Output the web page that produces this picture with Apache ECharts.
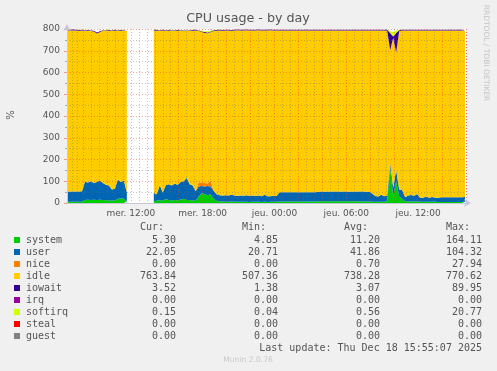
<!DOCTYPE html>
<html>
<head>
<meta charset="utf-8">
<script src="https://cdn.jsdelivr.net/npm/echarts@6/dist/echarts.min.js"></script>
<style>
html,body{margin:0;padding:0;background:#F0F0F0;}
#chart{width:497px;height:371px;}
</style>
</head>
<body>
<div id="chart"></div>
<script>
// ---- sample clock: 15-minute samples starting Wed 17 Dec 2025 06:40 ----
const sampleStart = new Date(2025, 11, 17, 6, 40).getTime();
const sampleStepMin = 15;
const axisStart = new Date(2025, 11, 17, 6, 40).getTime();
const axisEnd = new Date(2025, 11, 18, 16, 0).getTime();
const dayNames = ['dim.', 'lun.', 'mar.', 'mer.', 'jeu.', 'ven.', 'sam.'];

// ---- series values (%), null = no data ----
const systemData = [
  6,6,6,6,6,6,
  14,15,14,15,14,15,14,13,12,11,12,20,21,20,8,
  null,null,null,null,null,null,null,null,
  8,10,14,10,18,14,12,14,12,16,20,14,14,12,10,30,46,40,36,40,20,10,
  7,7,6,6,7,6,6,6,6,6,5,6,6,6,5,6,5,6,6,6,
  7,7,7,7,7,7,7,7,7,7,7,7,7,
  8,8,8,8,8,8,8,8,8,8,8,8,8,8,
  7,7,7,7,
  6,6,6,6,6,8,
  160,30,100,30,20,
  8,7,7,7,7,
  6,6,6,6,6,6,
  5,5,5,5,5,5,5,5,5,
  5.3
];
const userData = [
  47,47,47,47,47,48,
  84,79,86,77,82,89,78,71,68,51,54,88,75,82,42,
  null,null,null,null,null,null,null,null,
  38,30,68,38,64,72,68,74,72,80,80,102,72,68,44,46,32,36,42,36,36,30,
  29,27,30,28,31,28,27,29,27,30,28,29,26,28,26,32,26,25,27,26,
  42,42,42,43,42,42,43,42,43,42,42,43,42,
  44,45,44,45,44,45,45,44,45,45,44,45,44,45,
  46,46,45,45,
  38,26,24,32,25,26,
  22,40,52,32,40,
  18,28,30,26,34,
  18,18,24,18,22,18,
  19,22,22,22,22,22,22,22,22,
  22.05
];
const niceData = [
  0,0,0,0,0,0,
  0,0,0,0,0,0,0,0,0,0,0,0,0,0,0,
  null,null,null,null,null,null,null,null,
  0,0,0,0,0,0,0,0,0,0,0,0,0,0,0,20,14,16,12,26,2,0,
  0,0,0,0,0,0,0,0,0,0,0,0,0,0,0,0,0,0,0,0,
  0,0,0,0,0,0,0,0,0,0,0,0,0,
  0,0,0,0,0,0,0,0,0,0,0,0,0,0,
  0,0,0,0,
  0,0,0,0,0,0,
  0,0,0,0,0,
  0,0,0,0,0,
  0,0,0,0,0,0,
  0,0,0,0,0,0,0,0,0,
  0
];
const idleData = [
  740.5,740.5,740.5,740.5,739.5,739.5,
  693.5,698.5,690.5,696.5,683.5,682.5,699.5,706.5,712.5,729.5,726.5,683.5,696.5,688.5,742.5,
  null,null,null,null,null,null,null,null,
  747.5,752.5,709.5,745.5,709.5,705.5,710.5,703.5,708.5,694.5,691.5,673.5,705.5,712.5,739.5,694.5,695,690,691,684,733,752.5,
  757.5,758.5,757.5,759.5,754.5,759.5,761.5,758.5,760.5,758.5,760.5,758.5,761.5,760.5,762.5,755.5,762.5,763.5,760.5,761.5,
  744.5,744.5,744.5,743.5,744.5,744.5,743.5,744.5,743.5,744.5,744.5,743.5,744.5,
  741.5,740.5,741.5,740.5,741.5,740.5,740.5,741.5,740.5,740.5,741.5,740.5,741.5,740.5,
  740.5,740.5,741.5,741.5,
  749.5,761.5,763.5,755.5,762.5,758,
  520,690,540,728,733,
  767.5,758.5,756.5,760.5,752.5,
  769.5,769.5,763.5,769.5,765.5,769.5,
  769.5,766.5,766.5,766.5,766.5,766.5,766.5,766.5,766.5,
  763.84
];
const iowaitData = [
  3,3,4,3,3,3,
  3,3,3,3,4,3,3,3,3,3,3,3,3,3,3,
  null,null,null,null,null,null,null,null,
  3,3,3,3,3,4,3,3,3,3,3,3,3,3,3,3,3,4,3,3,3,3,
  3,3,3,3,3,3,3,3,3,3,3,3,3,3,3,3,3,3,3,3,
  3,3,3,3,3,3,3,3,3,3,3,3,3,
  3,3,3,3,3,3,3,3,3,3,3,3,3,3,
  3,3,3,3,
  3,3,3,3,3,4,
  80,6,90,4,3,
  3,3,3,3,3,
  3,3,3,3,3,3,
  3,3,3,3,3,3,3,3,3,
  3.52
];
const softirqData = [
  0.5,0.5,0.5,0.5,0.5,0.5,
  0.5,0.5,0.5,0.5,0.5,0.5,0.5,0.5,0.5,0.5,0.5,0.5,0.5,0.5,0.5,
  null,null,null,null,null,null,null,null,
  0.5,0.5,0.5,0.5,0.5,0.5,0.5,0.5,0.5,0.5,0.5,0.5,0.5,0.5,0.5,0.5,2,4,4,3,1,0.5,
  0.5,0.5,0.5,0.5,0.5,0.5,0.5,0.5,0.5,0.5,0.5,0.5,0.5,0.5,0.5,0.5,0.5,0.5,0.5,0.5,
  0.5,0.5,0.5,0.5,0.5,0.5,0.5,0.5,0.5,0.5,0.5,0.5,0.5,
  0.5,0.5,0.5,0.5,0.5,0.5,0.5,0.5,0.5,0.5,0.5,0.5,0.5,0.5,
  0.5,0.5,0.5,0.5,
  0.5,0.5,0.5,0.5,0.5,1,
  8,20,10,2,1,
  0.5,0.5,0.5,0.5,0.5,
  0.5,0.5,0.5,0.5,0.5,0.5,
  0.5,0.5,0.5,0.5,0.5,0.5,0.5,0.5,0.5,
  0.15
];

// ---- legend table ----
const legendNames = ['system', 'user', 'nice', 'idle', 'iowait', 'irq', 'softirq', 'steal', 'guest'];
const legendColors = ['#00CC00', '#0066B3', '#FF8000', '#FFCC00', '#330099', '#990099', '#CCFF00', '#FF0000', '#808080'];
const curVals = ['5.30', '22.05', '0.00', '763.84', '3.52', '0.00', '0.15', '0.00', '0.00'];
const minVals = ['4.85', '20.71', '0.00', '507.36', '1.38', '0.00', '0.04', '0.00', '0.00'];
const avgVals = ['11.20', '41.86', '0.70', '738.28', '3.07', '0.00', '0.56', '0.00', '0.00'];
const maxVals = ['164.11', '104.32', '27.94', '770.62', '89.95', '0.00', '20.77', '0.00', '0.00'];
const columnHeaders = ['Cur:', 'Min:', 'Avg:', 'Max:'];
const yTicks = [0, 100, 200, 300, 400, 500, 600, 700, 800];
const lastUpdate = 'Last update: Thu Dec 18 15:55:07 2025';

const chart = echarts.init(document.getElementById('chart'), null, {renderer: 'canvas'});

function toPairs(arr) {
  return arr.map((v, i) => [sampleStart + i * sampleStepMin * 60000, v]);
}
function pad(n) { return (n < 10 ? '0' : '') + n; }

const drawn = [
  ['system', systemData, legendColors[0]],
  ['user', userData, legendColors[1]],
  ['nice', niceData, legendColors[2]],
  ['idle', idleData, legendColors[3]],
  ['iowait', iowaitData, legendColors[4]],
  ['softirq', softirqData, legendColors[6]]
];

const series = drawn.map(([name, arr, color]) => ({
  name: name,
  type: 'line',
  stack: 'cpu',
  data: toPairs(arr),
  symbol: 'none',
  showSymbol: false,
  connectNulls: false,
  lineStyle: {width: 0, color: color},
  itemStyle: {color: color},
  areaStyle: {color: color, opacity: 1},
  z: 2,
  silent: true
}));

const mono = '10px "DejaVu Sans Mono"';
const textColor = '#555';
const graphics = [];
graphics.push({type: 'text', x: 248, y: 19, style: {text: 'CPU usage - by day', font: '12.7px "DejaVu Sans"', fill: '#555', textAlign: 'center', textVerticalAlign: 'middle'}});
graphics.push({type: 'text', x: 11, y: 115, rotation: Math.PI / 2, style: {text: '%', font: '10px "DejaVu Sans"', fill: '#555', textAlign: 'center', textVerticalAlign: 'middle'}});
graphics.push({type: 'text', x: 486, y: 53, rotation: -Math.PI / 2, style: {text: 'RRDTOOL / TOBI OETIKER', font: '7.5px "DejaVu Sans"', fill: '#c4c4c4', textAlign: 'center', textVerticalAlign: 'middle'}});

const colRight = [176, 278, 380, 482];
columnHeaders.forEach((h, j) => {
  graphics.push({type: 'text', x: colRight[j] - 12, y: 227, style: {text: h, font: mono, fill: textColor, textAlign: 'right', textVerticalAlign: 'middle'}});
});
const valCols = [curVals, minVals, avgVals, maxVals];
legendNames.forEach((n, i) => {
  const y = 240 + i * 12;
  graphics.push({type: 'rect', shape: {x: 14, y: y - 3, width: 6, height: 6}, style: {fill: legendColors[i]}});
  graphics.push({type: 'text', x: 26, y: y, style: {text: n, font: mono, fill: textColor, textAlign: 'left', textVerticalAlign: 'middle'}});
  valCols.forEach((col, j) => {
    graphics.push({type: 'text', x: colRight[j], y: y, style: {text: col[i], font: mono, fill: textColor, textAlign: 'right', textVerticalAlign: 'middle'}});
  });
});
graphics.push({type: 'text', x: 482, y: 348, style: {text: lastUpdate, font: mono, fill: textColor, textAlign: 'right', textVerticalAlign: 'middle'}});
graphics.push({type: 'text', x: 248, y: 360, style: {text: 'Munin 2.0.76', font: '7.6px "DejaVu Sans"', fill: '#c8c8c8', textAlign: 'center', textVerticalAlign: 'middle'}});

const majorGrid = {color: 'rgba(235,60,40,0.45)', width: 1, type: [1, 2]};
const minorGrid = {color: 'rgba(110,110,110,0.4)', width: 1, type: [1, 2]};

chart.setOption({
  animation: false,
  backgroundColor: '#F0F0F0',
  grid: {left: 67, right: 31, top: 29, bottom: 168, show: true, backgroundColor: '#FFFFFF', borderWidth: 0},
  xAxis: {
    type: 'time',
    min: axisStart,
    max: axisEnd,
    minInterval: 3 * 3600 * 1000,
    maxInterval: 3 * 3600 * 1000,
    z: 5,
    axisLine: {show: true, lineStyle: {color: '#c8c8dc', width: 1}, symbol: ['none', 'arrow'], symbolSize: [6, 7], symbolOffset: [0, 5]},
    axisTick: {show: false},
    axisLabel: {
      color: '#555',
      fontFamily: 'DejaVu Sans',
      fontSize: 9,
      margin: 6,
      hideOverlap: false,
      showMinLabel: true,
      showMaxLabel: true,
      formatter: function (value) {
        const d = new Date(value);
        if (d.getHours() % 6 !== 0 || d.getMinutes() !== 0) return '';
        return dayNames[d.getDay()] + ' ' + pad(d.getHours()) + ':00';
      }
    },
    splitLine: {show: true, lineStyle: majorGrid},
    minorTick: {show: false, splitNumber: 3},
    minorSplitLine: {show: true, lineStyle: minorGrid}
  },
  yAxis: {
    type: 'value',
    min: yTicks[0],
    max: yTicks[yTicks.length - 1],
    interval: 100,
    z: 5,
    axisLine: {show: true, lineStyle: {color: '#c8c8dc', width: 1}, symbol: ['none', 'arrow'], symbolSize: [6, 7], symbolOffset: [0, 5]},
    axisTick: {show: true, length: 3, lineStyle: {color: 'rgba(235,60,40,0.5)'}},
    minorTick: {show: true, splitNumber: 2, length: 2, lineStyle: {color: '#aaa'}},
    axisLabel: {color: '#555', fontFamily: 'DejaVu Sans', fontSize: 9, margin: 7},
    splitLine: {show: true, lineStyle: majorGrid},
    minorSplitLine: {show: true, lineStyle: minorGrid}
  },
  series: series,
  graphic: graphics
});
</script>
</body>
</html>
